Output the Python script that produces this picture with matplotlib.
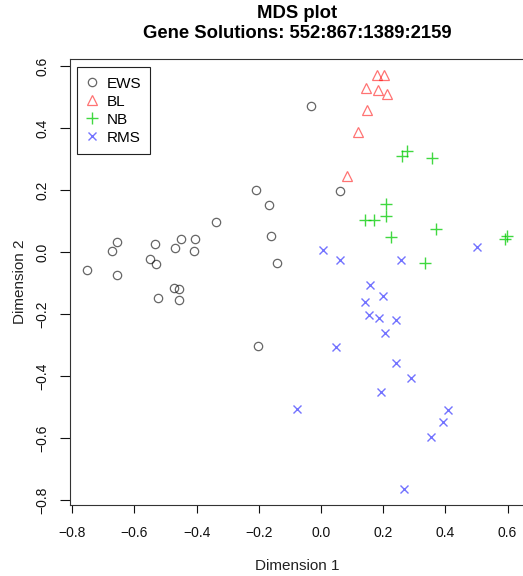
import matplotlib
matplotlib.use("Agg")
import matplotlib.pyplot as plt

plt.rcParams['font.family'] = ['Liberation Sans', 'DejaVu Sans']

ews_x = [-0.031, -0.209, 0.062, -0.167, -0.339, -0.162, -0.655, -0.672, -0.533, -0.450,
         -0.404, -0.469, -0.407, -0.550, -0.531, -0.753, -0.656, -0.140, -0.473, -0.456,
         -0.525, -0.456, -0.203]
ews_y = [0.472, 0.199, 0.196, 0.152, 0.097, 0.053, 0.031, 0.004, 0.026, 0.043,
         0.043, 0.013, 0.004, -0.023, -0.037, -0.058, -0.073, -0.034, -0.116, -0.119,
         -0.149, -0.156, -0.302]

bl_x = [0.180, 0.204, 0.144, 0.182, 0.211, 0.147, 0.118, 0.083]
bl_y = [0.570, 0.570, 0.530, 0.523, 0.511, 0.458, 0.389, 0.247]

nb_x = [0.259, 0.278, 0.356, 0.209, 0.208, 0.141, 0.170, 0.370, 0.226, 0.599, 0.593, 0.333]
nb_y = [0.310, 0.326, 0.305, 0.154, 0.117, 0.102, 0.104, 0.073, 0.049, 0.053, 0.041, -0.034]

rms_x = [0.005, 0.062, 0.257, 0.503, 0.158, 0.198, 0.143, 0.154, 0.185, 0.242,
         0.206, 0.048, 0.240, 0.288, 0.194, -0.078, 0.407, 0.393, 0.353, 0.267]
rms_y = [0.006, -0.026, -0.026, 0.017, -0.106, -0.142, -0.161, -0.203, -0.214, -0.219,
         -0.262, -0.306, -0.359, -0.405, -0.450, -0.506, -0.508, -0.549, -0.597, -0.763]

x_ticks = [-0.8, -0.6, -0.4, -0.2, 0.0, 0.2, 0.4, 0.6]
y_ticks = [-0.8, -0.6, -0.4, -0.2, 0.0, 0.2, 0.4, 0.6]

fig = plt.figure(figsize=(5.23, 5.76), dpi=100)
ax = fig.add_axes([70 / 523, 71 / 576, 455.3 / 523, 446 / 576])

ax.plot(ews_x, ews_y, linestyle='none', marker='o', markersize=6, markerfacecolor='none',
        markeredgecolor=(0, 0, 0, 0.6), markeredgewidth=0.9, label='EWS')
ax.plot(bl_x, bl_y, linestyle='none', marker='^', markersize=7, markerfacecolor='none',
        markeredgecolor=(1, 0, 0, 0.55), markeredgewidth=0.9, label='BL')
ax.plot(nb_x, nb_y, linestyle='none', marker='+', markersize=9,
        markeredgecolor=(0, 0.8, 0, 0.75), markeredgewidth=1.0, label='NB')
ax.plot(rms_x, rms_y, linestyle='none', marker='x', markersize=6,
        markeredgecolor=(0, 0, 1, 0.55), markeredgewidth=1.0, label='RMS')

ax.set_xlim(-0.807, 0.657)
ax.set_ylim(-0.816, 0.623)
ax.set_xticks(x_ticks)
ax.set_yticks(y_ticks)
ax.set_xticklabels([f"{v:.1f}".replace('-', '\u2212') for v in x_ticks], fontsize=10)
ax.set_yticklabels([f"{v:.1f}".replace('-', '\u2212') for v in y_ticks], fontsize=10,
                   rotation=90, va='center')
ax.tick_params(axis='x', direction='out', length=6, width=0.8, pad=9, colors='#111111')
ax.tick_params(axis='y', direction='out', length=7.5, width=0.8, pad=7.5, colors='#111111')
for s in ax.spines.values():
    s.set_linewidth(0.8)
    s.set_color('#333333')

ax.set_xlabel('Dimension 1', fontsize=11, labelpad=14, color='#222222')
ax.set_ylabel('Dimension 2', fontsize=11, labelpad=6, color='#222222')

fig.text(297.5 / 523, 1 - 14 / 576, 'MDS plot', ha='center', va='center',
         fontsize=13.3, fontweight='bold')
fig.text(297.5 / 523, 1 - 33.5 / 576, 'Gene Solutions: 552:867:1389:2159', ha='center',
         va='center', fontsize=13.3, fontweight='bold')

leg = ax.legend(loc='upper left', bbox_to_anchor=(0.016, 0.981), fontsize=11,
                frameon=True, fancybox=False, edgecolor='#222222', framealpha=1,
                borderpad=0.6, labelspacing=0.26, handlelength=0.7, handletextpad=0.62,
                borderaxespad=0, numpoints=1)
leg.get_frame().set_linewidth(0.8)

fig.savefig('out.png', dpi=100)
